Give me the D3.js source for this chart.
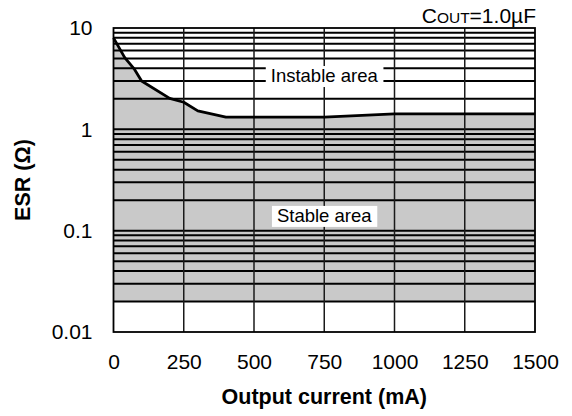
<!DOCTYPE html>
<html>
<head>
<meta charset="utf-8">
<script src="https://cdn.jsdelivr.net/npm/d3@7"></script>
<style>
  html, body { margin: 0; padding: 0; background: #fff; }
  svg { display: block; font-family: "Liberation Sans", Arial, Helvetica, sans-serif; }
</style>
</head>
<body>
<svg id="chart" width="572" height="416"></svg>
<script>
// ---- data ----
const currentMA = [0, 40, 75, 100, 200, 250, 300, 400, 750, 1000, 1500];
const esrOhm    = [8, 5.1, 3.9, 3.0, 2.02, 1.85, 1.52, 1.32, 1.32, 1.42, 1.42];
const xTickValues = [0, 250, 500, 750, 1000, 1250, 1500];
const yTickValues = [0.01, 0.1, 1, 10];
const yTickLabels = ["0.01", "0.1", "1", "10"];
const stableFloor = 0.02;
const xTitle = "Output current (mA)";
const yTitle = "ESR (Ω)";
const areaLabels = [
  { text: "Instable area", x: 750, y: 2.93 },
  { text: "Stable area", x: 750, y: 0.122 }
];

// ---- layout ----
const svg = d3.select("#chart");
const pL = 113.5, pR = 535, pT = 28, pB = 332;

const x = d3.scaleLinear().domain([0, 1500]).range([pL, pR]);
const y = d3.scaleLog().domain([0.01, 10]).range([pB, pT]);

const pts = currentMA.map((c, i) => ({ c, r: esrOhm[i] }));

// stable area fill
svg.append("path")
  .datum(pts)
  .attr("fill", "#c9c9c9")
  .attr("d", d3.area().x(d => x(d.c)).y0(y(stableFloor)).y1(d => y(d.r)));

// horizontal grid (log minor ticks from 0.02 up)
const hTicks = y.ticks().filter(v => v >= stableFloor * 0.999 && v < 9.999);
svg.append("g")
  .selectAll("line")
  .data(hTicks)
  .join("line")
  .attr("x1", pL).attr("x2", pR)
  .attr("y1", d => y(d)).attr("y2", d => y(d))
  .attr("stroke", "#000")
  .attr("stroke-width", 2);

// vertical grid
svg.append("g")
  .selectAll("line")
  .data(xTickValues.slice(1, -1))
  .join("line")
  .attr("x1", d => x(d)).attr("x2", d => x(d))
  .attr("y1", pT).attr("y2", pB)
  .attr("stroke", "#1a1a1a")
  .attr("stroke-width", 1.5);

// frame
svg.append("rect")
  .attr("x", pL).attr("y", pT)
  .attr("width", pR - pL).attr("height", pB - pT)
  .attr("fill", "none").attr("stroke", "#000").attr("stroke-width", 1.8);

// area labels with white boxes
const lab = svg.append("g");
areaLabels.forEach(l => {
  const t = lab.append("text")
    .attr("x", x(l.x)).attr("y", y(l.y))
    .attr("text-anchor", "middle")
    .attr("font-size", 18.5)
    .attr("fill", "#000")
    .text(l.text);
  const bb = t.node().getBBox();
  lab.insert("rect", () => t.node())
    .attr("x", bb.x - 5).attr("y", bb.y + 1)
    .attr("width", bb.width + 10).attr("height", bb.height)
    .attr("fill", "#fff");
});

// boundary curve
svg.append("path")
  .datum(pts)
  .attr("fill", "none")
  .attr("stroke", "#000")
  .attr("stroke-width", 2.8)
  .attr("stroke-linejoin", "round")
  .attr("d", d3.line().x(d => x(d.c)).y(d => y(d.r)));

// x axis labels
const xAxis = d3.axisBottom(x).tickValues(xTickValues).tickSize(0).tickPadding(0).tickFormat(d3.format("d"));
const gx = svg.append("g").attr("transform", `translate(0,${pB + 22})`).call(xAxis);
gx.select(".domain").remove();
gx.selectAll("text").attr("font-size", 21).attr("fill", "#000")
  .attr("font-family", "'Liberation Sans', Arial, sans-serif").attr("dy", "0.71em");

// y axis labels
const yAxis = d3.axisLeft(y).tickValues(yTickValues).tickSize(0).tickPadding(0)
  .tickFormat((d, i) => yTickLabels[i]);
const gy = svg.append("g").attr("transform", `translate(${pL - 21},0)`).call(yAxis);
gy.select(".domain").remove();
gy.selectAll("text").attr("font-size", 21).attr("fill", "#000")
  .attr("font-family", "'Liberation Sans', Arial, sans-serif");

// axis titles
svg.append("text")
  .attr("x", (pL + pR) / 2).attr("y", 404)
  .attr("text-anchor", "middle")
  .attr("font-size", 21.5).attr("font-weight", "bold").attr("fill", "#000")
  .text(xTitle);

svg.append("text")
  .attr("transform", `translate(30,${(pT + pB) / 2}) rotate(-90)`)
  .attr("text-anchor", "middle")
  .attr("font-size", 21.5).attr("font-weight", "bold").attr("fill", "#000")
  .text(yTitle);

// Cout label
const ct = svg.append("text")
  .attr("x", pR + 1).attr("y", 23)
  .attr("text-anchor", "end")
  .attr("font-size", 21).attr("fill", "#000");
ct.append("tspan").text("C");
ct.append("tspan").attr("font-size", 15.5).text("OUT");
ct.append("tspan").text("=1.0µF");
</script>
</body>
</html>
